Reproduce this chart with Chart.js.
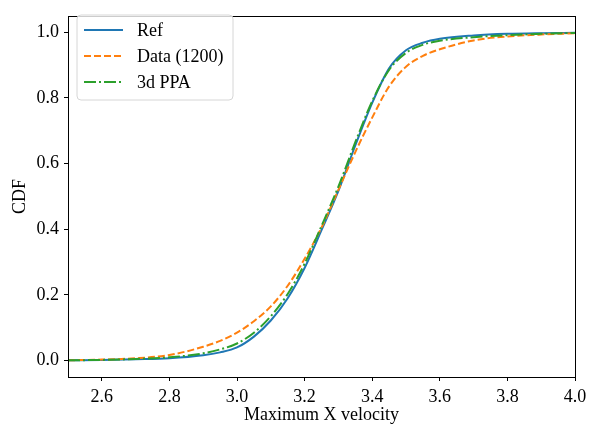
<!DOCTYPE html>
<html>
<head>
<meta charset="utf-8">
<script src="https://cdn.jsdelivr.net/npm/chart.js@4/dist/chart.umd.min.js"></script>
<style>
  body { margin: 0; background: #fff; }
  #wrap { width: 599px; height: 431px; }
</style>
</head>
<body>
<div id="wrap"><canvas id="cdfChart" width="599" height="431"></canvas></div>
<script>
// velocity grid (x) and the three CDF curves
var velocity = [2.5, 2.6, 2.7, 2.8, 2.9, 2.95, 3.0, 3.05, 3.1, 3.15, 3.2, 3.25, 3.3, 3.35, 3.4, 3.45, 3.5, 3.55, 3.6, 3.7, 3.8, 3.9, 4.0];
var refCdf  = [0.001, 0.002, 0.004, 0.007, 0.016, 0.025, 0.040, 0.073, 0.122, 0.190, 0.282, 0.397, 0.517, 0.655, 0.785, 0.890, 0.945, 0.968, 0.980, 0.990, 0.995, 0.997, 0.998];
var dataCdf = [0.001, 0.003, 0.007, 0.017, 0.042, 0.060, 0.085, 0.120, 0.165, 0.228, 0.310, 0.405, 0.520, 0.635, 0.740, 0.835, 0.895, 0.928, 0.948, 0.975, 0.987, 0.993, 0.997];
var ppaCdf  = [0.001, 0.002, 0.005, 0.010, 0.022, 0.034, 0.052, 0.085, 0.135, 0.203, 0.295, 0.410, 0.530, 0.665, 0.790, 0.885, 0.937, 0.962, 0.974, 0.985, 0.991, 0.995, 0.998];

var xTicks = [2.6, 2.8, 3.0, 3.2, 3.4, 3.6, 3.8, 4.0];
var yTicks = [0.0, 0.2, 0.4, 0.6, 0.8, 1.0];

var serif = "'Liberation Serif', 'DejaVu Serif', serif";

function pts(ys) {
  return velocity.map(function (v, i) { return {x: v, y: ys[i]}; });
}

var series = [
  {label: "Ref", data: pts(refCdf), borderColor: "#1f77b4", borderDash: [], order: 3},
  {label: "Data (1200)", data: pts(dataCdf), borderColor: "#ff7f0e", borderDash: [7, 3], order: 2},
  {label: "3d PPA", data: pts(ppaCdf), borderColor: "#2ca02c", borderDash: [12, 3, 2, 3], order: 1}
];
series.forEach(function (s) {
  s.borderWidth = 2;
  s.pointRadius = 0;
  s.fill = false;
  s.cubicInterpolationMode = "monotone";
});

// box around the plot area, like matplotlib
var frame = {
  id: "frame",
  afterDatasetsDraw: function (chart) {
    var a = chart.chartArea, ctx = chart.ctx;
    ctx.save();
    ctx.strokeStyle = "#000";
    ctx.lineWidth = 1;
    ctx.strokeRect(Math.round(a.left) + 0.5, Math.round(a.top) + 0.5,
                   Math.round(a.right - a.left), Math.round(a.bottom - a.top));
    ctx.restore();
  }
};

// legend inside the axes, upper left
var innerLegend = {
  id: "innerLegend",
  afterDraw: function (chart) {
    var ctx = chart.ctx;
    var x0 = 77, y0 = 15, w = 156, h = 85, r = 4;
    ctx.save();
    ctx.beginPath();
    ctx.moveTo(x0 + r, y0);
    ctx.arcTo(x0 + w, y0, x0 + w, y0 + h, r);
    ctx.arcTo(x0 + w, y0 + h, x0, y0 + h, r);
    ctx.arcTo(x0, y0 + h, x0, y0, r);
    ctx.arcTo(x0, y0, x0 + w, y0, r);
    ctx.closePath();
    ctx.fillStyle = "rgba(255,255,255,0.8)";
    ctx.fill();
    ctx.strokeStyle = "#d6d6d6";
    ctx.lineWidth = 1;
    ctx.stroke();
    ctx.font = "18px " + serif;
    ctx.textBaseline = "middle";
    chart.data.datasets.forEach(function (ds, i) {
      var y = 30 + i * 26;
      ctx.beginPath();
      ctx.setLineDash(ds.borderDash);
      ctx.strokeStyle = ds.borderColor;
      ctx.lineWidth = 2;
      ctx.moveTo(84, y);
      ctx.lineTo(123, y);
      ctx.stroke();
      ctx.setLineDash([]);
      ctx.fillStyle = "#000";
      ctx.fillText(ds.label, 137, y + 1);
    });
    ctx.restore();
  }
};

var ctx = document.getElementById("cdfChart").getContext("2d");
var cdfChart = new Chart(ctx, {
  type: "line",
  data: {datasets: series},
  options: {
    responsive: false,
    animation: false,
    layout: {padding: {top: 7, right: 24, left: 0, bottom: 0}},
    plugins: {legend: {display: false}, tooltip: {enabled: false}},
    scales: {
      x: {
        type: "linear",
        min: 2.5,
        max: 4.0,
        afterBuildTicks: function (s) { s.ticks = xTicks.map(function (v) { return {value: v}; }); },
        afterFit: function (s) { s.height = 54; },
        grid: {drawOnChartArea: false, drawTicks: true, tickLength: 4, color: "#000"},
        border: {display: false},
        ticks: {
          color: "#000", padding: 5, maxRotation: 0,
          font: {family: serif, size: 18},
          callback: function (v) { return v.toFixed(1); }
        },
        title: {display: true, text: "Maximum X velocity", color: "#000",
                font: {family: serif, size: 18}, padding: {top: 0, bottom: 5}}
      },
      y: {
        min: -0.05,
        max: 1.05,
        afterBuildTicks: function (s) { s.ticks = yTicks.map(function (v) { return {value: v}; }); },
        afterFit: function (s) { s.width = 68; },
        grid: {drawOnChartArea: false, drawTicks: true, tickLength: 4, color: "#000"},
        border: {display: false},
        ticks: {
          color: "#000", padding: 5,
          font: {family: serif, size: 18},
          callback: function (v) { return v.toFixed(1); }
        },
        title: {display: true, text: "CDF", color: "#000",
                font: {family: serif, size: 18}, padding: {top: 9, bottom: 0}}
      }
    }
  },
  plugins: [frame, innerLegend]
});
</script>
</body>
</html>
